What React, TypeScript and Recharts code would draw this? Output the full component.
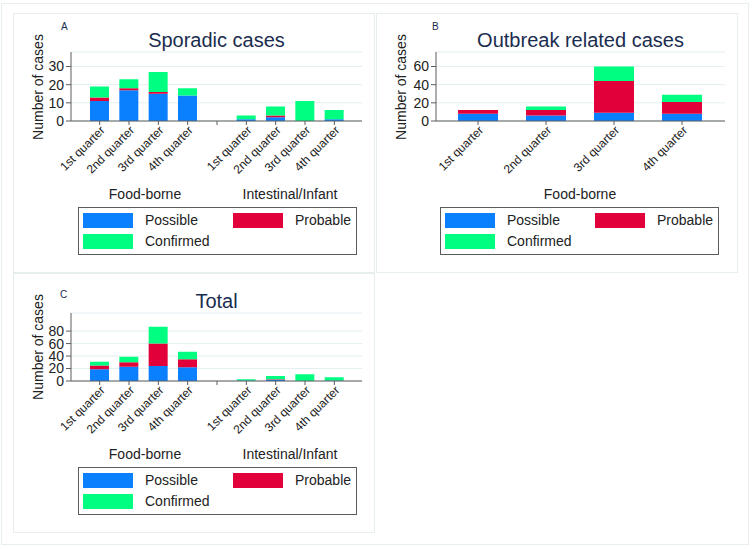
import React from 'react'
import { Bar, BarChart, CartesianGrid, XAxis, YAxis } from 'recharts'

const QUARTERS = ['1st quarter', '2nd quarter', '3rd quarter', '4th quarter']

// sporadic cases
const SPORADIC_FOOD_POSSIBLE = [11, 17, 15, 14]
const SPORADIC_FOOD_PROBABLE = [2, 1, 1, 0]
const SPORADIC_FOOD_CONFIRMED = [6, 5, 11, 4]
const SPORADIC_INT_POSSIBLE = [1, 2, 0, 1]
const SPORADIC_INT_PROBABLE = [0, 1, 0, 0]
const SPORADIC_INT_CONFIRMED = [2, 5, 11, 5]

// outbreak related (food-borne only)
const OUTBREAK_POSSIBLE = [8, 6, 9, 8]
const OUTBREAK_PROBABLE = [4, 6, 35, 13]
const OUTBREAK_CONFIRMED = [0, 4, 16, 8]

// total
const TOTAL_FOOD_POSSIBLE = [19, 23, 24, 22]
const TOTAL_FOOD_PROBABLE = [6, 7, 36, 13]
const TOTAL_FOOD_CONFIRMED = [6, 9, 27, 12]
const TOTAL_INT_POSSIBLE = [1, 2, 0, 1]
const TOTAL_INT_PROBABLE = [0, 1, 0, 0]
const TOTAL_INT_CONFIRMED = [2, 5, 11, 5]

const TICKS_A = [0, 10, 20, 30]
const TICKS_B = [0, 20, 40, 60]
const TICKS_C = [0, 20, 40, 60, 80]

const SERIES = [
    { key: 'possible', name: 'Possible', color: '#0a80ff' },
    { key: 'probable', name: 'Probable', color: '#e2003a' },
    { key: 'confirmed', name: 'Confirmed', color: '#00ff80' },
]

const FONT = '"Liberation Sans", Arial, sans-serif'
const NAVY = '#1b2d4f'
const INK = '#222'
const AXIS = '#5c5c5c'
const FRAME = '#e6eeee'

type Group = { possible: number[]; probable: number[]; confirmed: number[] }

const buildRows = (groups: Group[]) => {
    const rows: any[] = []
    groups.forEach((g, gi) => {
        if (gi > 0) rows.push({ quarter: '' })
        QUARTERS.forEach((q, i) => {
            rows.push({ quarter: q, possible: g.possible[i], probable: g.probable[i], confirmed: g.confirmed[i] })
        })
    })
    return rows
}

const sporadicRows = buildRows([
    { possible: SPORADIC_FOOD_POSSIBLE, probable: SPORADIC_FOOD_PROBABLE, confirmed: SPORADIC_FOOD_CONFIRMED },
    { possible: SPORADIC_INT_POSSIBLE, probable: SPORADIC_INT_PROBABLE, confirmed: SPORADIC_INT_CONFIRMED },
])
const outbreakRows = buildRows([
    { possible: OUTBREAK_POSSIBLE, probable: OUTBREAK_PROBABLE, confirmed: OUTBREAK_CONFIRMED },
])
const totalRows = buildRows([
    { possible: TOTAL_FOOD_POSSIBLE, probable: TOTAL_FOOD_PROBABLE, confirmed: TOTAL_FOOD_CONFIRMED },
    { possible: TOTAL_INT_POSSIBLE, probable: TOTAL_INT_PROBABLE, confirmed: TOTAL_INT_CONFIRMED },
])

const QuarterTick = (props: any) => {
    const { x, y, payload } = props
    if (!payload || !payload.value) return <g />
    const ax = x + 3
    const ay = y + 1
    return (
        <text x={ax} y={ay} dy="0.35em" textAnchor="end" transform={`rotate(-45 ${ax} ${ay})`}
            fontSize={12} fill={INK} fontFamily={FONT}>
            {payload.value}
        </text>
    )
}

const centered = (x: number, y: number, extra: React.CSSProperties = {}): React.CSSProperties => ({
    position: 'absolute', left: x, top: y, transform: 'translate(-50%, -50%)', whiteSpace: 'nowrap',
    fontFamily: FONT, lineHeight: 1.15, ...extra,
})

const LegendBox = ({ left, top, width }: { left: number; top: number; width: number }) => (
    <div style={{ position: 'absolute', left, top, width, height: 48, border: `1px solid ${AXIS}`, boxSizing: 'border-box', background: '#fff' }}>
        {SERIES.map((s, i) => {
            const col = i % 2
            const row = Math.floor(i / 2)
            return (
                <React.Fragment key={s.key}>
                    <div style={{ position: 'absolute', left: 4 + col * 150, top: 5 + row * 21, width: 50, height: 15, background: s.color }} />
                    <div style={{ position: 'absolute', left: 66 + col * 150, top: 4 + row * 21, fontSize: 14, fontFamily: FONT, color: INK, lineHeight: '17px' }}>{s.name}</div>
                </React.Fragment>
            )
        })}
    </div>
)

type PanelProps = {
    left: number; top: number; letter: string; letterPos: [number, number]; title: string;
    rows: any[]; groups: string[]; groupX: number[]; yMax: number; ticks: number[];
    yWidth: number; barSize: number; pad: [number, number]; plotTop: number; plotBottom: number;
}

const W = 362
const H = 260

const Panel = (p: PanelProps) => {
    const plotLeft = p.yWidth
    const plotRight = W - 13
    return (
        <div style={{ position: 'absolute', left: p.left, top: p.top, width: W, height: H, border: `1px solid ${FRAME}`, boxSizing: 'border-box' }}>
            <div style={{ position: 'absolute', left: -1, top: -1 }}>
                <BarChart width={W} height={H} data={p.rows} barCategoryGap={0}
                    margin={{ top: p.plotTop, right: W - plotRight, left: 0, bottom: H - p.plotBottom - 60 }}>
                    <CartesianGrid vertical={false} stroke="#e3eff1" strokeWidth={1} />
                    <XAxis dataKey="quarter" height={60} interval={0} tick={<QuarterTick />} tickSize={4}
                        stroke={AXIS} tickLine={{ stroke: AXIS }} padding={{ left: p.pad[0], right: p.pad[1] }} />
                    <YAxis width={p.yWidth} domain={[0, p.yMax]} ticks={p.ticks} interval={0} allowDataOverflow tickSize={5}
                        stroke={AXIS} tick={{ fontSize: 14, fill: INK, fontFamily: FONT }} />
                    {SERIES.map(s => (
                        <Bar key={s.key} dataKey={s.key} name={s.name} stackId="a" fill={s.color}
                            barSize={p.barSize} isAnimationActive={false} />
                    ))}
                </BarChart>
            </div>
            <div style={{ position: 'absolute', left: p.letterPos[0], top: p.letterPos[1], fontSize: 10, fontFamily: FONT, color: NAVY, lineHeight: 1 }}>{p.letter}</div>
            <div style={centered((plotLeft + plotRight) / 2 - 1, p.plotTop - 13, { fontSize: 20, color: NAVY })}>{p.title}</div>
            <div style={centered(24, (p.plotTop + p.plotBottom) / 2 - 1, { fontSize: 14, color: INK, transform: 'translate(-50%, -50%) rotate(-90deg)' })}>Number of cases</div>
            {p.groups.map((g, i) => (
                <div key={g} style={centered(p.groupX[i], p.plotBottom + 72, { fontSize: 14, color: INK })}>{g}</div>
            ))}
            <LegendBox left={p.yWidth === 60 ? 63 : 64} top={p.plotBottom + 85} width={279} />
        </div>
    )
}

export default function App() {
    return (
        <div style={{ position: 'absolute', left: 0, top: 0, width: 752, height: 549, background: '#fff', overflow: 'hidden' }}>
            <div style={{ position: 'absolute', left: 1, top: 3, width: 748, height: 542, border: `1px solid ${FRAME}`, boxSizing: 'border-box' }} />
            <Panel left={13} top={13} letter="A" letterPos={[47, 8]} title="Sporadic cases" rows={sporadicRows}
                groups={['Food-borne', 'Intestinal/Infant']} groupX={[131, 276]} yMax={38} ticks={TICKS_A}
                yWidth={58} barSize={19} pad={[14, 13]} plotTop={39} plotBottom={108} />
            <Panel left={376} top={13} letter="B" letterPos={[55, 8]} title="Outbreak related cases" rows={outbreakRows}
                groups={['Food-borne']} groupX={[203]} yMax={76} ticks={TICKS_B}
                yWidth={60} barSize={40} pad={[8, 9]} plotTop={39} plotBottom={108} />
            <Panel left={13} top={273} letter="C" letterPos={[46, 16]} title="Total" rows={totalRows}
                groups={['Food-borne', 'Intestinal/Infant']} groupX={[131, 276]} yMax={109} ticks={TICKS_C}
                yWidth={58} barSize={19} pad={[14, 13]} plotTop={40} plotBottom={108} />
        </div>
    )
}
